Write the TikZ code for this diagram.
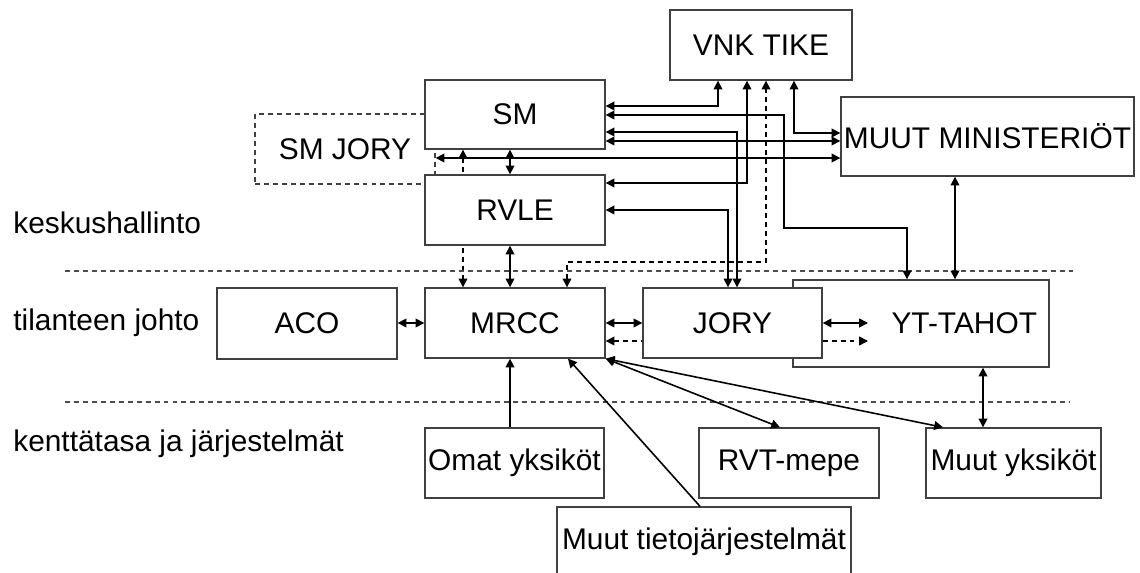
\documentclass[tikz,border=0pt]{standalone}
\usepackage{fontspec}
\setmainfont{Liberation Sans}
\usetikzlibrary{arrows.meta,backgrounds}
\tikzset{
  box/.style={draw=black!75, line width=0.8pt, fill=white, minimum width=3.6cm, minimum height=1.4cm, inner sep=0pt},
  link/.style={line width=0.9pt, >={Triangle[length=5pt,width=5pt]}},
  dlink/.style={link, dash pattern=on 2.8pt off 2.3pt},
  sep/.style={line width=0.7pt, black!70, dash pattern=on 2.8pt off 2.3pt}
}
\begin{document}
\begin{tikzpicture}[x=0.02cm, y=-0.02cm, font=\fontsize{17}{20}\selectfont]
\useasboundingbox (0,0) rectangle (1140,573);
\node[anchor=base west, inner sep=0pt] (kesk) at (13,234) {keskushallinto};
\node[anchor=base west, inner sep=0pt] (tilanne) at (13,331) {tilanteen johto};
\node[anchor=base west, inner sep=0pt] (kentta) at (13,452) {kenttätasa ja järjestelmät};
\draw[sep] (65,271) -- (1076,271);
\draw[sep] (65,402) -- (1069,402);
\node[box, dash pattern=on 2.8pt off 2.3pt] (smjory) at (345,149) {SM JORY};
\node[box, minimum width=5.12cm, minimum height=1.74cm, text width=4.64cm, inner xsep=0.24cm, align=right] (yt) at (921,323.5) {YT-TAHOT};
\node[box, minimum width=3.64cm] (vnk) at (761,45) {VNK TIKE};
\node[box, minimum height=1.38cm] (sm) at (515,114.5) {SM};
\node[box] (rvle) at (515,210) {RVLE};
\node[box, minimum width=5.86cm, minimum height=1.58cm] (muutmin) at (987.5,136.5) {MUUT MINISTERIÖT};
\node[box, minimum height=1.42cm] (aco) at (307,323.5) {ACO};
\node[box] (mrcc) at (515,323) {MRCC};
\node[box, minimum width=3.58cm] (jory) at (732.5,323) {JORY};
\node[box, minimum width=3.58cm] (omat) at (514.5,463) {Omat yksiköt};
\node[box] (rvt) at (789,463) {RVT-mepe};
\node[box, minimum width=3.5cm] (muutyks) at (1013.5,463) {Muut yksiköt};
\node[box, minimum width=5.88cm] (muuttieto) at (704,542) {Muut tietojärjestelmät};
\coordinate (ytin) at (868,323);
\draw[link,<->] (sm.east |- 0,106) -| (vnk.south -| 718,0);
\draw[link,<->] (sm.east |- 0,115) -- (784,115) |- (907,228) -- (yt.north -| 907,0);
\draw[link,<->] (sm.east |- 0,132) -| (jory.north -| 737,0);
\draw[link,<->] (sm.east |- 0,141) -- (muutmin.west |- 0,141);
\draw[link,<->] (vnk.south -| 794,0) |- (muutmin.west |- 0,133);
\draw[link,<->] (smjory.east |- 0,158) -- (muutmin.west |- 0,158);
\draw[link,<->] (rvle.east |- 0,183) -| (vnk.south -| 747,0);
\draw[link,<->] (rvle.east |- 0,210) -| (jory.north -| 728,0);
\draw[dlink,<->] (mrcc.north -| 567,0) |- (766,262) -- (vnk.south -| 766,0);
\begin{scope}[on background layer]
\draw[dlink,<->] (sm.south -| 463,0) -- (mrcc.north -| 463,0);
\end{scope}
\draw[link,<->] (sm.south -| 510,0) -- (rvle.north -| 510,0);
\draw[link,<->] (rvle.south -| 510,0) -- (mrcc.north -| 510,0);
\draw[link,<->] (aco.east |- 0,323) -- (mrcc.west |- 0,323);
\draw[link,<->] (mrcc.east |- 0,323) -- (jory.west |- 0,323);
\draw[dlink,<-] (mrcc.east |- 0,341) -- (jory.west |- 0,341);
\draw[link,<->] (jory.east |- ytin) -- (ytin);
\draw[dlink,->] (jory.east |- 0,341) -- (ytin |- 0,341);
\draw[link,<->] (muutmin.south -| 955,0) -- (yt.north -| 955,0);
\draw[link,->] (omat.north -| 510,0) -- (mrcc.south -| 510,0);
\draw[link,->] (muuttieto.north -| 700,0) -- (mrcc.south -| 568,0);
\draw[link,<->] (mrcc.south east) -- (rvt.north -| 780,0);
\draw[link,<->] (mrcc.south east) -- (muutyks.north -| 943,0);
\draw[link,<->] (yt.south -| 983,0) -- (muutyks.north -| 983,0);
\end{tikzpicture}
\end{document}
